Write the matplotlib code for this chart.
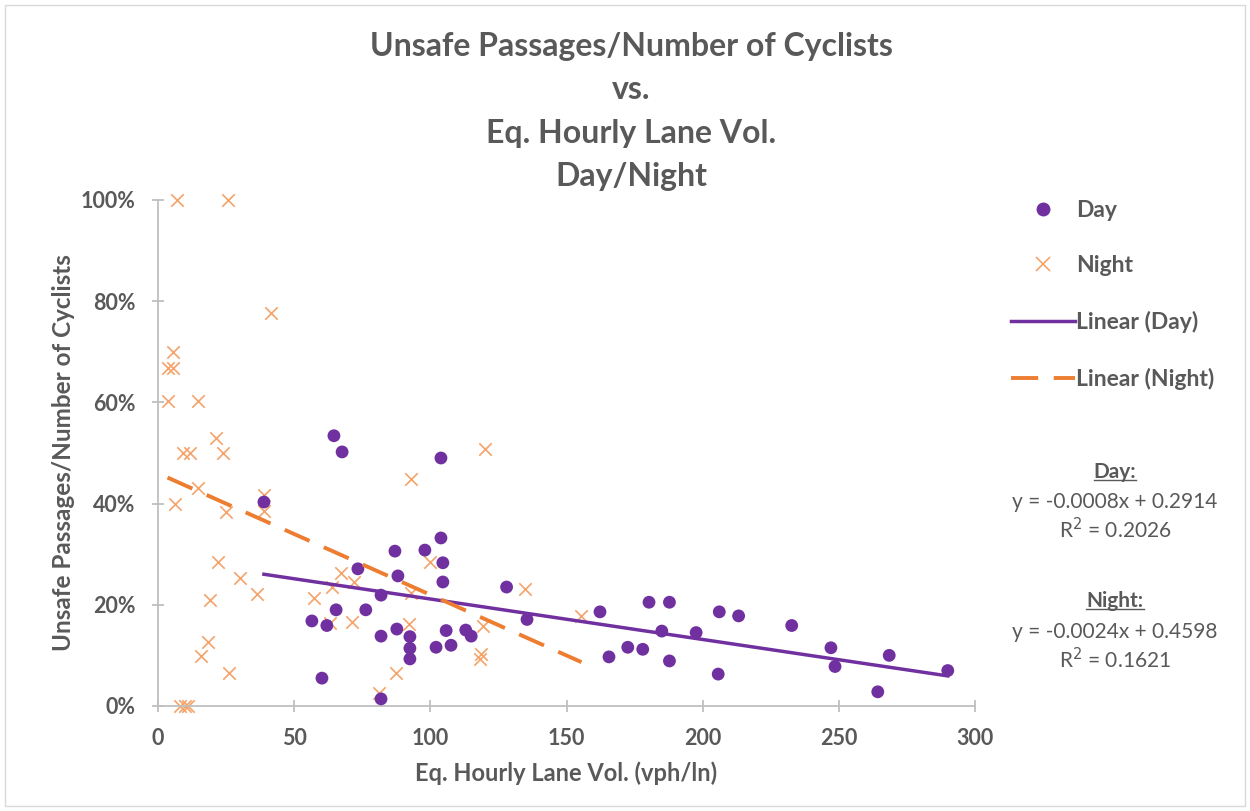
import numpy as np
import matplotlib.pyplot as plt
from matplotlib.lines import Line2D
from matplotlib.patches import Rectangle
from matplotlib.ticker import PercentFormatter

plt.rcParams['font.family'] = ['Lato', 'DejaVu Sans']

# day points (hourly lane volume, share of unsafe passages)
day_x = [38.9, 64.6, 67.6, 103.9, 103.9, 104.6, 104.6, 87.0, 98.0, 73.4,
         88.1, 81.9, 128.0, 135.5, 65.4, 76.3, 56.5, 62.0, 81.9, 87.7,
         92.5, 92.5, 92.5, 105.8, 102.1, 107.6, 113.0, 115.0, 60.2, 81.9,
         162.3, 165.6, 172.5, 178.0, 180.3, 187.8, 185.0, 187.8, 197.6, 206.1,
         213.2, 205.7, 232.7, 247.1, 248.6, 268.5, 264.3, 290.0]
day_y = [0.403, 0.534, 0.502, 0.490, 0.332, 0.283, 0.245, 0.306, 0.308, 0.271,
         0.257, 0.219, 0.235, 0.171, 0.190, 0.190, 0.168, 0.159, 0.138, 0.152,
         0.137, 0.114, 0.093, 0.149, 0.116, 0.120, 0.150, 0.138, 0.055, 0.014,
         0.186, 0.097, 0.116, 0.112, 0.205, 0.205, 0.148, 0.089, 0.145, 0.186,
         0.178, 0.063, 0.159, 0.115, 0.078, 0.100, 0.028, 0.070]

# night points
night_x = [6.9, 25.6, 41.6, 5.4, 3.5, 5.5, 3.8, 14.6, 21.4, 9.3,
           11.8, 24.0, 14.8, 6.2, 38.8, 38.8, 25.1, 22.2, 30.2, 36.3,
           19.1, 18.5, 15.7, 26.1, 8.1, 10.0, 11.1, 57.2, 119.9, 92.9,
           99.8, 67.2, 72.1, 63.8, 93.0, 134.6, 63.2, 71.4, 92.0, 119.4,
           118.5, 118.2, 87.5, 81.0, 155.5]
night_y = [1.000, 1.000, 0.776, 0.699, 0.667, 0.667, 0.602, 0.602, 0.530, 0.500,
           0.500, 0.500, 0.430, 0.400, 0.416, 0.386, 0.384, 0.285, 0.252, 0.222,
           0.210, 0.127, 0.099, 0.066, 0.000, 0.000, 0.000, 0.213, 0.507, 0.448,
           0.285, 0.263, 0.244, 0.236, 0.223, 0.232, 0.164, 0.166, 0.162, 0.158,
           0.103, 0.092, 0.066, 0.026, 0.178]

# trendline coefficients as shown on the chart
day_fit = (-0.0008, 0.2914, 0.2026)
night_fit = (-0.0024, 0.4598, 0.1621)

purple = '#7030A0'
orange = '#ED7D31'
light_orange = '#F4A36A'
grey = '#595959'

fig = plt.figure(figsize=(12.5, 8.11), dpi=100)
ax = fig.add_axes([0.1264, 0.1295, 0.6536, 0.624])

ax.scatter(night_x, night_y, marker='x', s=80, color=light_orange, linewidths=1.2,
           zorder=2, clip_on=False)
ax.scatter(day_x, day_y, marker='o', s=85, color=purple, edgecolors='none', zorder=3,
           clip_on=False)

xd = np.array([min(day_x), max(day_x)])
ax.plot(xd, day_fit[0] * xd + day_fit[1], color=purple, lw=2.5, zorder=4)
xn = np.array([min(night_x), max(night_x)])
ax.plot(xn, night_fit[0] * xn + night_fit[1], color=orange, lw=2.8,
        dashes=(7, 4), zorder=4)

ax.set_xlim(0, 300)
ax.set_ylim(0, 1)
ax.set_xticks(range(0, 301, 50))
ax.set_yticks(np.arange(0, 1.01, 0.2))
ax.yaxis.set_major_formatter(PercentFormatter(1.0, decimals=0))
for s in ['top', 'right']:
    ax.spines[s].set_visible(False)
for s in ['left', 'bottom']:
    ax.spines[s].set_color('#BFBFBF')
    ax.spines[s].set_linewidth(1.3)
ax.tick_params(direction='inout', length=8, width=1.3, color='#BFBFBF',
               labelsize=15.5, labelcolor=grey)
ax.tick_params(axis='y', pad=12)
ax.tick_params(axis='x', pad=12)
for lab in ax.get_xticklabels() + ax.get_yticklabels():
    lab.set_fontweight('bold')

ax.set_xlabel('Eq. Hourly Lane Vol. (vph/ln)', fontsize=17, fontweight='bold',
              color=grey, labelpad=9)
ax.set_ylabel('Unsafe Passages/Number of Cyclists', fontsize=17.5, fontweight='bold',
              color=grey, labelpad=4)

fig.text(0.505, 1 - 32 / 811, 'Unsafe Passages/Number of Cyclists\nvs.\nEq. Hourly Lane Vol.\nDay/Night',
         ha='center', va='top', fontsize=23, fontweight='bold', color=grey,
         linespacing=1.6)

handles = [
    Line2D([], [], marker='o', ls='none', color=purple, markersize=9),
    Line2D([], [], marker='x', ls='none', color=light_orange, markersize=10, mew=1.2),
    Line2D([], [], color=purple, lw=2.5),
    Line2D([], [], color=orange, lw=2.8, dashes=(7, 4)),
]
leg = fig.legend(handles, ['Day', 'Night', 'Linear (Day)', 'Linear (Night)'],
                 loc='upper left', bbox_to_anchor=(0.792, 1 - 179 / 811), frameon=False,
                 fontsize=16.5, labelspacing=1.52, handlelength=2.8, handletextpad=0.05)
for t in leg.get_texts():
    t.set_color(grey)
    t.set_fontweight('bold')

cx = 0.892
fs = 15
hdr_day = fig.text(cx, 1 - 472 / 811, 'Day:', ha='center', va='center', fontsize=fs,
                   color=grey, fontweight='bold')
fig.text(cx, 1 - 502 / 811, f'y = {day_fit[0]:.4f}x + {day_fit[1]:.4f}', ha='center',
         va='center', fontsize=fs, color=grey)
fig.text(cx, 1 - 530 / 811, f'R$^2$ = {day_fit[2]:.4f}', ha='center', va='center',
         fontsize=fs, color=grey)
hdr_night = fig.text(cx, 1 - 601 / 811, 'Night:', ha='center', va='center', fontsize=fs,
                     color=grey, fontweight='bold')
fig.text(cx, 1 - 632 / 811, f'y = {night_fit[0]:.4f}x + {night_fit[1]:.4f}', ha='center',
         va='center', fontsize=fs, color=grey)
fig.text(cx, 1 - 660 / 811, f'R$^2$ = {night_fit[2]:.4f}', ha='center', va='center',
         fontsize=fs, color=grey)

# underline the headers
fig.canvas.draw()
renderer = fig.canvas.get_renderer()
for t in (hdr_day, hdr_night):
    bb = t.get_window_extent(renderer).transformed(fig.transFigure.inverted())
    fig.add_artist(Line2D([bb.x0, bb.x1], [bb.y0 + 0.002, bb.y0 + 0.002],
                          transform=fig.transFigure, color=grey, lw=1))

fig.add_artist(Rectangle((0.004, 0.006), 0.992, 0.988, transform=fig.transFigure,
                         fill=False, edgecolor='#D9D9D9', lw=1))

fig.savefig('out.png', dpi=100)
